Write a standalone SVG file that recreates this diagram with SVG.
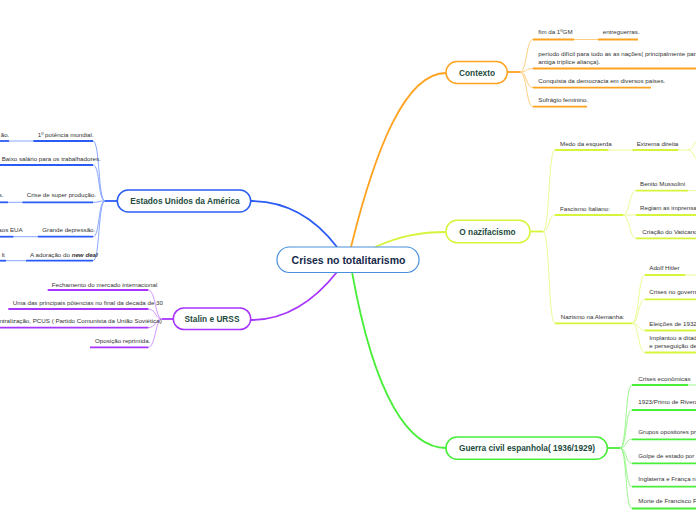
<svg xmlns="http://www.w3.org/2000/svg" width="696" height="520" viewBox="0 0 696 520">
<style>
.t{font-family:"Liberation Sans",Arial,sans-serif;font-size:6.2px;fill:#333}
.n{font-family:"Liberation Sans",Arial,sans-serif;font-size:8.3px;font-weight:bold;fill:#1d4b3c;text-anchor:middle}
.e{text-anchor:end}
.box{fill:#fff;stroke-width:1.5}
.ul{fill:none;stroke-width:1.8}
.th{fill:none;stroke-width:0.9}
.mc{fill:none;stroke-width:1.8}
.b{stroke:#2a5cf5}.bt{stroke:#7b9cff}
.o{stroke:#ffa21f}.ot{stroke:#ffc870}
.y{stroke:#d6f53a}.yt{stroke:#e6fa8a}
.p{stroke:#a834ff}.pt{stroke:#cc8aff}
.g{stroke:#48ee38}.gt{stroke:#93f585}
</style>
<rect width="696" height="520" fill="#fff"/>
<g id="connectors">
<path class="mc b" d="M337,247 C318,222 290,201 251,201"/>
<path class="mc o" d="M351,247 C375,150 405,73 446,73"/>
<path class="mc y" d="M375,247 C400,236 420,232 446,232"/>
<path class="mc p" d="M337,272 C318,296 290,320 251,320"/>
<path class="mc g" d="M352,272 C375,400 410,448 446,448"/>
<!-- Contexto -->
<path class="ul o" d="M507,72 H520"/>
<path class="th ot" d="M520,72 C527,72 526,39.5 533,39.5 M520,72 C527,72 526,68.5 533,68.5 M520,72 C527,72 526,87.7 533,87.7 M520,72 C527,72 526,106.7 533,106.7 M574,39.5 H598"/>
<!-- Estados Unidos -->
<path class="ul b" d="M117,201 H105"/>
<path class="th bt" d="M105,201 C98,201 100,141 93,141 M105,201 C98,201 100,165 93,165 M105,201 C98,201 100,202.3 93,202.3 M105,201 C98,201 100,236.7 93,236.7 M105,201 C98,201 100,260.7 93,260.7 M9,141 H33 M8,202.3 H22 M13,236.7 H37.7 M6,260.7 H26"/>
<!-- Stalin -->
<path class="ul p" d="M173,319 H162"/>
<path class="th pt" d="M162,319 C155,319 156,290 148,290 M162,319 C155,319 156,309 148,309 M162,319 C155,319 156,327.7 148,327.7 M162,319 C155,319 156,347.3 148,347.3"/>
<!-- Nazifacismo -->
<path class="ul y" d="M530,231.5 H543"/>
<path class="th yt" d="M543,231.5 C550,231.5 548,150 555,150 M543,231.5 C550,231.5 548,215 555,215 M543,231.5 C550,231.5 548,323.3 555,323.3 M608,150 H633 M678,150 H688 C692,150 693,146 696,141 M688,150 C692,150 693,154 696,159"/>
<path class="th yt" d="M623,215 C630,215 629,190.7 636,190.7 M623,215 H636 M623,215 C630,215 629,238.3 636,238.3 M688,190.7 H696"/>
<path class="th yt" d="M632,323.3 C639,323.3 638,275 645,275 M632,323.3 C639,323.3 638,299.3 645,299.3 M632,323.3 C639,323.3 638,330.5 645,330.5 M632,323.3 C639,323.3 638,352.5 645,352.5 M685,275 H696"/>
<!-- Guerra -->
<path class="ul g" d="M607,448 H620"/>
<path class="th gt" d="M620,448 C627,448 625,385 632,385 M620,448 C627,448 625,410 632,410 M620,448 C627,448 625,439.3 632,439.3 M620,448 C627,448 625,463.3 632,463.3 M620,448 C627,448 625,486.7 632,486.7 M620,448 C627,448 625,508.5 632,508.5 M688,385 H696"/>
</g>
<g id="root">
<rect x="277" y="247" width="142" height="25.5" rx="12.5" fill="#fff" stroke="#4a8fdc" stroke-width="1.2"/>
<text x="348.5" y="263.5" class="n" style="font-size:10.5px;fill:#17284a">Crises no totalitarismo</text>
</g>
<g id="contexto">
<rect class="box o" x="446" y="61.5" width="61.3" height="22" rx="11"/>
<text class="n" x="477" y="75.5">Contexto</text>
</g>
<g id="c1"><text class="t" x="538.3" y="34">fim da 1ºGM</text><path class="ul o" d="M533,39.5 H574"/></g>
<g id="c1a"><text class="t" x="602.7" y="34">entreguerras.</text><path class="ul o" d="M598,39.5 H638"/></g>
<g id="c2"><text class="t" x="538.3" y="56">período difícil para todo as as nações( principalmente para a</text><text class="t" x="538.3" y="63.5">antiga tríplice aliança).</text><path class="ul o" d="M533,68.5 H696"/></g>
<g id="c3"><text class="t" x="538.3" y="82.7">Conquista da democracia em diversos países.</text><path class="ul o" d="M533,87.7 H651"/></g>
<g id="c4"><text class="t" x="538.3" y="101.7">Sufrágio feminino.</text><path class="ul o" d="M533,106.7 H587"/></g>

<g id="eua">
<rect class="box b" x="117.3" y="190" width="133.4" height="22" rx="11"/>
<text class="n" x="185" y="204">Estados Unidos da América</text>
</g>
<g id="e1"><text class="t" x="37.7" y="136.5">1º potência mundial.</text><path class="ul b" d="M33.3,141 H93"/></g>
<g id="e1a"><text class="t e" x="9.3" y="136.5">ão.</text><path class="ul b" d="M0,141 H9"/></g>
<g id="e2"><text class="t" x="1.7" y="160.5">Baixo salário para os trabalhadores.</text><path class="ul b" d="M0,165 H93"/></g>
<g id="e3"><text class="t" x="26.7" y="197.3">Crise de super produção.</text><path class="ul b" d="M22.3,202.3 H93"/></g>
<g id="e3a"><text class="t e" x="3.5" y="197.3">s.</text><path class="ul b" d="M0,202.3 H8"/></g>
<g id="e4"><text class="t" x="42.3" y="232.3">Grande depressão.</text><path class="ul b" d="M37.7,236.7 H93"/></g>
<g id="e4a"><text class="t e" x="22.7" y="232.3">aos EUA</text><path class="ul b" d="M0,236.7 H13.3"/></g>
<g id="e5"><text class="t" x="30" y="256.5">A adoração do <tspan font-weight="bold" font-style="italic">new deal</tspan></text><path class="ul b" d="M26,260.7 H93"/></g>
<g id="e5a"><text class="t e" x="4.8" y="256.5">lt</text><path class="ul b" d="M0,260.7 H6"/></g>

<g id="stalin">
<rect class="box p" x="173.3" y="308" width="77.4" height="21.5" rx="10.7"/>
<text class="n" x="212" y="321.5">Stalin e URSS</text>
</g>
<g id="s1"><text class="t" x="51.7" y="286.5">Fechamento do mercado internacional</text><path class="ul p" d="M47.7,290 H148.3"/></g>
<g id="s2"><text class="t" x="12.7" y="305">Uma das principais pôtencias no final da decada de 30</text><path class="ul p" d="M8.3,309 H148.3"/></g>
<g id="s3"><text class="t e" x="161.7" y="323.3">ntralização, PCUS ( Partido Comunista da União Soviética)</text><path class="ul p" d="M0,327.7 H148.3"/></g>
<g id="s4"><text class="t" x="95" y="342.7">Oposição reprimida.</text><path class="ul p" d="M90,347.3 H148.3"/></g>

<g id="nazi">
<rect class="box y" x="446" y="220.3" width="84" height="22.4" rx="11"/>
<text class="n" x="487.5" y="234.5">O nazifacismo</text>
</g>
<g id="n1"><text class="t" x="560" y="146">Medo da esquerda</text><path class="ul y" d="M555,150 H608.3"/></g>
<g id="n1a"><text class="t" x="636.7" y="146">Extrema direita</text><path class="ul y" d="M632.7,150 H678.3"/></g>
<g id="n2"><text class="t" x="560" y="210.7">Fascismo Italiano:</text><path class="ul y" d="M555,215 H623"/></g>
<g id="n2a"><text class="t" x="640" y="186">Benito Mussolini</text><path class="ul y" d="M636,190.7 H688"/></g>
<g id="n2b"><text class="t" x="640" y="210.3">Regiam as imprensas</text><path class="ul y" d="M636,215 H696"/></g>
<g id="n2c"><text class="t" x="642.3" y="234">Criação do Vaticano</text><path class="ul y" d="M636,238.3 H696"/></g>
<g id="n3"><text class="t" x="560.7" y="319.3">Nazismo na Alemanha:</text><path class="ul y" d="M555,323.3 H632"/></g>
<g id="n3a"><text class="t" x="649.3" y="270">Adolf Hitler</text><path class="ul y" d="M645,275 H685"/></g>
<g id="n3b"><text class="t" x="649.3" y="294">Crises no governo</text><path class="ul y" d="M645,299.3 H696"/></g>
<g id="n3c"><text class="t" x="649.3" y="326">Eleições de 1932</text><path class="ul y" d="M645,330.5 H696"/></g>
<g id="n3d"><text class="t" x="649.3" y="339.5">Implantou a ditadura</text><text class="t" x="649.3" y="348">e perseguição de</text><path class="ul y" d="M645,352.5 H696"/></g>

<g id="guerra">
<rect class="box g" x="446" y="437" width="161.3" height="22.3" rx="11"/>
<text class="n" x="527" y="451">Guerra civil espanhola( 1936/1929)</text>
</g>
<g id="g1"><text class="t" x="638.3" y="381">Crises econômicas</text><path class="ul g" d="M632,385 H688"/></g>
<g id="g2"><text class="t" x="638.3" y="404.3">1923/Primo de Rivera</text><path class="ul g" d="M632,410 H696"/></g>
<g id="g3"><text class="t" x="638.3" y="433.5">Grupos opositores pr</text><path class="ul g" d="M632,439.3 H696"/></g>
<g id="g4"><text class="t" x="638.3" y="457.5">Golpe de estado por F</text><path class="ul g" d="M632,463.3 H696"/></g>
<g id="g5"><text class="t" x="638.3" y="481">Inglaterra e França n</text><path class="ul g" d="M632,486.7 H696"/></g>
<g id="g6"><text class="t" x="638.3" y="503">Morte de Francisco F</text><path class="ul g" d="M632,508.5 H696"/></g>
</svg>
